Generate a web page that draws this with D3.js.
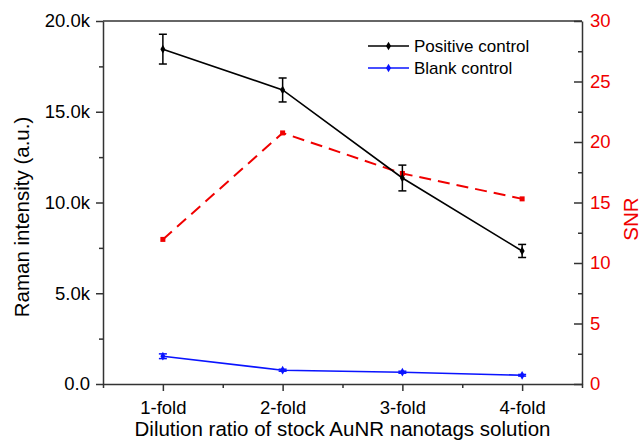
<!DOCTYPE html>
<html>
<head>
<meta charset="utf-8">
<script src="https://cdn.jsdelivr.net/npm/d3@7"></script>
<style>
  html, body { margin: 0; padding: 0; background: #fff; }
  svg { display: block; font-family: "Liberation Sans", Arial, sans-serif; }
</style>
</head>
<body>
<svg id="chart" width="641" height="441"></svg>
<script>
// Dilution series
const categories = ["1-fold", "2-fold", "3-fold", "4-fold"];
const positiveControl = [18450, 16200, 11350, 7330];
const positiveErr = [820, 660, 710, 360];
const blankControl = [1530, 760, 650, 480];
const blankErr = [130, 55, 55, 45];
const snrValues = [11.95, 20.75, 17.4, 15.3];

// Axis ticks
const leftTicks = [0, 5000, 10000, 15000, 20000];
const leftTickLabels = ["0.0", "5.0k", "10.0k", "15.0k", "20.0k"];
const leftMinor = [2500, 7500, 12500, 17500];
const rightTicks = [0, 5, 10, 15, 20, 25, 30];
const rightMinor = [2.5, 7.5, 12.5, 17.5, 22.5, 27.5];
const xMinor = [0.5, 1.5, 2.5, 3.5, 4.5];

const legendLabels = ["Positive control", "Blank control"];

const margin = { left: 103, right: 582, top: 21, bottom: 384 };
const axisColor = "#333";
const red = "#f00000";
const blue = "#0a14ff";

const svg = d3.select("#chart");

const x = d3.scaleLinear().domain([0.5, 4.5]).range([margin.left, margin.right]);
const yL = d3.scaleLinear().domain([0, 20000]).range([margin.bottom, margin.top]);
const yR = d3.scaleLinear().domain([0, 30]).range([margin.bottom, margin.top]);

const idx = categories.map((_, i) => i + 1);

// Frame top line
svg.append("line")
  .attr("x1", margin.left).attr("x2", margin.right)
  .attr("y1", margin.top).attr("y2", margin.top)
  .attr("stroke", axisColor).attr("stroke-width", 1.5);

function styleAxis(g, color, fontSize) {
  g.select(".domain").attr("stroke", axisColor).attr("stroke-width", 1.5);
  g.selectAll(".tick line").attr("stroke", axisColor).attr("stroke-width", 1.5);
  g.selectAll(".tick text").attr("fill", color).style("font-size", fontSize + "px");
}

// Left axis
const gLeftMinor = svg.append("g").attr("transform", `translate(${margin.left},0)`)
  .call(d3.axisLeft(yL).tickValues(leftMinor).tickSize(4).tickFormat(""));
gLeftMinor.select(".domain").remove();
gLeftMinor.selectAll("line").attr("stroke", axisColor).attr("stroke-width", 1.5);

const gLeft = svg.append("g").attr("transform", `translate(${margin.left},0)`)
  .call(d3.axisLeft(yL).tickValues(leftTicks).tickSize(7).tickPadding(6).tickSizeOuter(0)
    .tickFormat((d, i) => leftTickLabels[i]));
styleAxis(gLeft, "#000", 18.5);

// Right axis (ticks pointing inward)
const gRightMinor = svg.append("g").attr("transform", `translate(${margin.right},0)`)
  .call(d3.axisLeft(yR).tickValues(rightMinor).tickSize(4).tickFormat(""));
gRightMinor.select(".domain").remove();
gRightMinor.selectAll("line").attr("stroke", axisColor).attr("stroke-width", 1.5);

const gRight = svg.append("g").attr("transform", `translate(${margin.right},0)`)
  .call(d3.axisLeft(yR).tickValues(rightTicks).tickSize(8).tickSizeOuter(0).tickFormat(d3.format("d")));
styleAxis(gRight, red, 18.5);
gRight.selectAll(".tick text").attr("x", 8).attr("text-anchor", "start");

// Bottom axis
const gBottomMinor = svg.append("g").attr("transform", `translate(0,${margin.bottom})`)
  .call(d3.axisBottom(x).tickValues(xMinor).tickSize(4).tickFormat(""));
gBottomMinor.select(".domain").remove();
gBottomMinor.selectAll("line").attr("stroke", axisColor).attr("stroke-width", 1.5);

const gBottom = svg.append("g").attr("transform", `translate(0,${margin.bottom})`)
  .call(d3.axisBottom(x).tickValues(idx).tickSize(7).tickSizeOuter(0).tickPadding(10)
    .tickFormat((d, i) => categories[i]));
styleAxis(gBottom, "#000", 18.5);

// Axis titles
svg.append("text")
  .attr("x", (margin.left + margin.right) / 2).attr("y", 436)
  .attr("text-anchor", "middle").style("font-size", "20.5px").attr("fill", "#000")
  .text("Dilution ratio of stock AuNR nanotags solution");

svg.append("text")
  .attr("transform", "translate(29,217) rotate(-90)")
  .attr("text-anchor", "middle").style("font-size", "20.5px").attr("fill", "#000")
  .text("Raman intensity (a.u.)");

svg.append("text")
  .attr("transform", "translate(638,219) rotate(-90)")
  .attr("text-anchor", "middle").style("font-size", "20.5px").attr("fill", red)
  .text("SNR");

// SNR dashed line with square markers
const snrLine = d3.line().x((d, i) => x(idx[i])).y(d => yR(d));
svg.append("path").datum(snrValues)
  .attr("d", snrLine).attr("fill", "none")
  .attr("stroke", red).attr("stroke-width", 2).attr("stroke-dasharray", "12,7");
svg.append("g").selectAll("rect").data(snrValues).join("rect")
  .attr("x", (d, i) => x(idx[i]) - 2.5).attr("y", d => yR(d) - 2.5)
  .attr("width", 5).attr("height", 5).attr("fill", red);

// Intensity series with error bars
function drawSeries(values, errs, color) {
  const line = d3.line().x((d, i) => x(idx[i])).y(d => yL(d));
  svg.append("path").datum(values).attr("d", line)
    .attr("fill", "none").attr("stroke", color).attr("stroke-width", 1.6);
  const g = svg.append("g");
  values.forEach((v, i) => {
    const cx = x(idx[i]);
    const top = yL(v + errs[i]);
    const bot = yL(v - errs[i]);
    g.append("line").attr("x1", cx).attr("x2", cx).attr("y1", top).attr("y2", bot)
      .attr("stroke", color).attr("stroke-width", 1.5);
    [top, bot].forEach(yy => g.append("line")
      .attr("x1", cx - 4).attr("x2", cx + 4).attr("y1", yy).attr("y2", yy)
      .attr("stroke", color).attr("stroke-width", 1.5));
    g.append("path")
      .attr("d", d3.symbol().type(d3.symbolDiamond).size(22)())
      .attr("transform", `translate(${cx},${yL(v)})`)
      .attr("fill", color);
  });
}
drawSeries(positiveControl, positiveErr, "#000");
drawSeries(blankControl, blankErr, blue);

// Legend
const legendColors = ["#000", blue];
const legend = svg.append("g");
legendLabels.forEach((label, i) => {
  const ly = 46 + i * 22;
  legend.append("line").attr("x1", 368).attr("x2", 409).attr("y1", ly).attr("y2", ly)
    .attr("stroke", legendColors[i]).attr("stroke-width", 1.6);
  legend.append("path")
    .attr("d", d3.symbol().type(d3.symbolDiamond).size(22)())
    .attr("transform", `translate(388.5,${ly})`).attr("fill", legendColors[i]);
  legend.append("text").attr("x", 414).attr("y", ly + 6)
    .style("font-size", "17px").attr("fill", "#000").text(label);
});
</script>
</body>
</html>
